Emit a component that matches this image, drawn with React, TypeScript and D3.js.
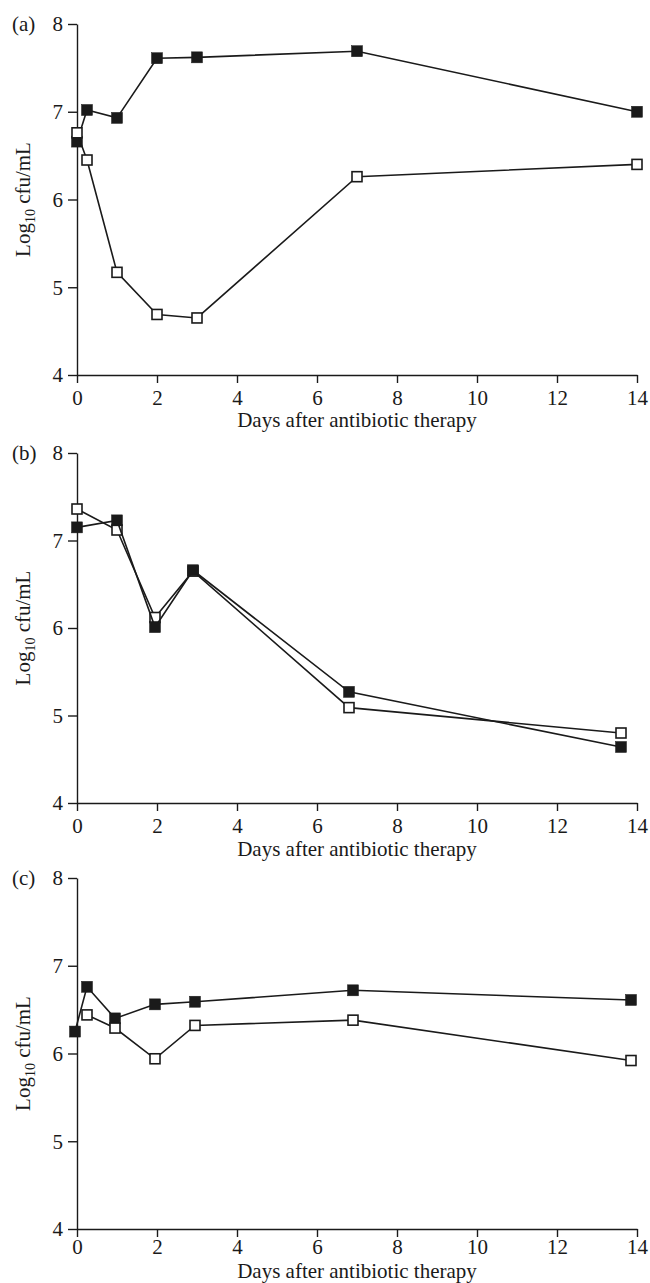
import React, { useEffect, useRef } from "react";
import * as d3 from "d3";

const width = 650;
const height = 1283;
const left = 77;
const right = 637;
const ink = "#1a1a1a";
const font = "'Liberation Serif', 'Times New Roman', serif";

const xTicks = [0, 2, 4, 6, 8, 10, 12, 14];
const yTicks = [4, 5, 6, 7, 8];
const xTitle = "Days after antibiotic therapy";

// panel (a)
const daysA = [0, 0.25, 1, 2, 3, 7, 14];
const filledA = [6.66, 7.02, 6.93, 7.61, 7.62, 7.69, 7.0];
const openA = [6.76, 6.45, 5.17, 4.69, 4.65, 6.26, 6.4];

// panel (b)
const daysB = [0, 1, 1.95, 2.9, 6.8, 13.6];
const filledB = [7.15, 7.23, 6.01, 6.66, 5.27, 4.64];
const openB = [7.36, 7.12, 6.12, 6.65, 5.09, 4.8];

// panel (c)
const filledDaysC = [-0.05, 0.25, 0.95, 1.95, 2.95, 6.9, 13.85];
const filledC = [6.25, 6.76, 6.4, 6.56, 6.59, 6.72, 6.61];
const openDaysC = [0.25, 0.95, 1.95, 2.95, 6.9, 13.85];
const openC = [6.44, 6.29, 5.94, 6.32, 6.38, 5.92];

const panels = [
  { label: "(a)", top: 24, bottom: 375, pad: 8, titleY: 52, fd: daysA, fv: filledA, od: daysA, ov: openA, openOnTop: true },
  { label: "(b)", top: 453, bottom: 803, pad: 8, titleY: 53, fd: daysB, fv: filledB, od: daysB, ov: openB, openOnTop: false },
  { label: "(c)", top: 878, bottom: 1229, pad: 3, titleY: 49, fd: filledDaysC, fv: filledC, od: openDaysC, ov: openC, openOnTop: true },
];

export default function App() {
  const ref = useRef<SVGSVGElement | null>(null);

  useEffect(() => {
    const svg = d3.select(ref.current);
    svg.selectAll("*").remove();

    const x = d3.scaleLinear().domain([0, 14]).range([left, right]);

    panels.forEach((p) => {
      const y = d3.scaleLinear().domain([4, 8]).range([p.bottom, p.top]);
      const g = svg.append("g");

      const xa = g
        .append("g")
        .attr("transform", `translate(0, ${p.bottom})`)
        .call(
          d3.axisBottom(x).tickValues(xTicks).tickFormat(d3.format("d")).tickSize(8).tickSizeOuter(0).tickPadding(p.pad)
        );
      const ya = g
        .append("g")
        .attr("transform", `translate(${left}, 0)`)
        .call(
          d3.axisLeft(y).tickValues(yTicks).tickFormat(d3.format("d")).tickSize(9).tickSizeOuter(0).tickPadding(5)
        );

      [xa, ya].forEach((a) => {
        a.attr("font-family", font).attr("font-size", 21);
        a.selectAll("path, line").attr("stroke", ink).attr("stroke-width", 1.4);
        a.selectAll("text").attr("fill", ink);
      });
      xa.selectAll("text").attr("dy", "0.66em");
      ya.selectAll("text").attr("dy", "0.33em");

      g.append("text")
        .attr("x", (left + right) / 2)
        .attr("y", p.bottom + p.titleY)
        .attr("text-anchor", "middle")
        .attr("font-family", font)
        .attr("font-size", 21)
        .attr("fill", ink)
        .text(xTitle);

      g.append("text")
        .attr("x", 12)
        .attr("y", p.top + 7)
        .attr("font-family", font)
        .attr("font-size", 21)
        .attr("fill", ink)
        .text(p.label);

      const yl = g
        .append("text")
        .attr("transform", `translate(30, ${(p.top + p.bottom) / 2}) rotate(-90)`)
        .attr("text-anchor", "middle")
        .attr("font-family", font)
        .attr("font-size", 21)
        .attr("fill", ink);
      yl.append("tspan").text("Log");
      yl.append("tspan").attr("font-size", 14).attr("dy", 5).text("10");
      yl.append("tspan").attr("dy", -5).text(" cfu/mL");

      const line = d3
        .line<[number, number]>()
        .x((d) => x(d[0]))
        .y((d) => y(d[1]));

      const drawSeries = (days: number[], vals: number[], filled: boolean) => {
        const pts = days.map((d, i) => [d, vals[i]] as [number, number]);
        const s = g.append("g");
        s.append("path")
          .attr("d", line(pts))
          .attr("fill", "none")
          .attr("stroke", ink)
          .attr("stroke-width", 1.6);
        const size = filled ? 11 : 10;
        s.selectAll("rect")
          .data(pts)
          .enter()
          .append("rect")
          .attr("x", (d) => x(d[0]) - size / 2)
          .attr("y", (d) => y(d[1]) - size / 2)
          .attr("width", size)
          .attr("height", size)
          .attr("fill", filled ? ink : "#fff")
          .attr("stroke", ink)
          .attr("stroke-width", filled ? 0.5 : 1.6);
      };

      if (p.openOnTop) {
        drawSeries(p.fd, p.fv, true);
        drawSeries(p.od, p.ov, false);
      } else {
        drawSeries(p.od, p.ov, false);
        drawSeries(p.fd, p.fv, true);
      }
    });
  }, []);

  return (
    <svg
      ref={ref}
      width={width}
      height={height}
      style={{ position: "absolute", left: 0, top: 0, background: "#fff" }}
    />
  );
}
